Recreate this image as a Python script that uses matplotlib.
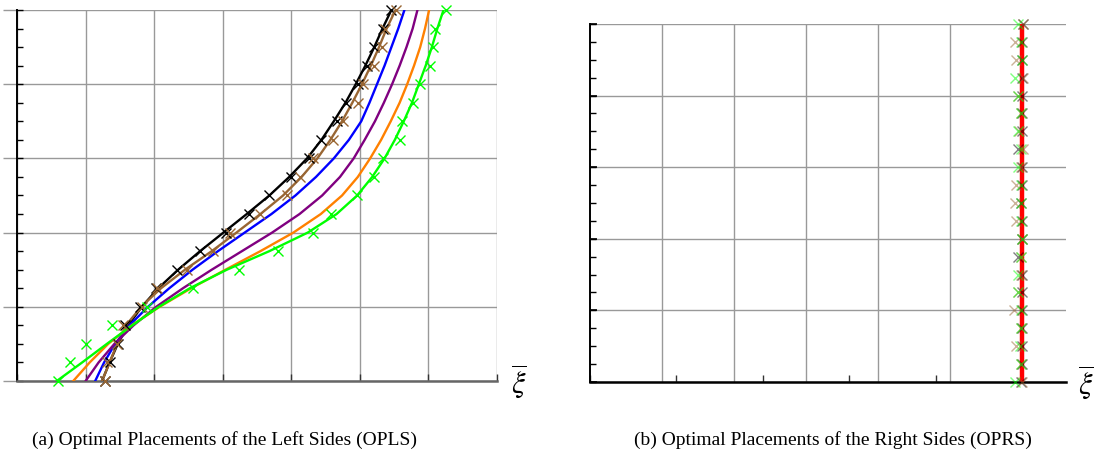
import matplotlib
matplotlib.use('Agg')
import matplotlib.pyplot as plt
from matplotlib.ticker import MultipleLocator

plt.rcParams['font.family'] = ['Liberation Serif', 'DejaVu Serif']
plt.rcParams['mathtext.fontset'] = 'stix'

# heights at which every placement is sampled
heights = [0.0, 0.25, 0.5, 0.75, 1.0, 1.25, 1.5, 1.75, 2.0, 2.25, 2.5,
           2.75, 3.0, 3.25, 3.5, 3.75, 4.0, 4.25, 4.5, 4.75, 5.0]

# left sides: analytic curves
opls_black = [1.24, 1.35, 1.47, 1.62, 1.82, 2.06, 2.35, 2.67, 3.01, 3.35, 3.68,
              3.97, 4.23, 4.44, 4.62, 4.79, 4.94, 5.08, 5.21, 5.33, 5.46]
opls_brown = [1.24, 1.35, 1.46, 1.59, 1.81, 2.10, 2.45, 2.84, 3.20, 3.55, 3.88,
              4.15, 4.38, 4.57, 4.74, 4.89, 5.03, 5.16, 5.28, 5.39, 5.52]
opls_blue = [1.14, 1.27, 1.43, 1.64, 1.91, 2.22, 2.56, 2.93, 3.32, 3.71, 4.06,
             4.36, 4.62, 4.84, 5.02, 5.14, 5.25, 5.36, 5.46, 5.56, 5.65]
opls_purple = [1.00, 1.19, 1.42, 1.70, 2.03, 2.42, 2.84, 3.28, 3.72, 4.12, 4.45,
               4.71, 4.91, 5.07, 5.22, 5.35, 5.47, 5.58, 5.68, 5.77, 5.84]
opls_orange = [0.82, 1.06, 1.33, 1.67, 2.08, 2.54, 3.04, 3.55, 4.03, 4.43, 4.74,
               4.97, 5.15, 5.31, 5.45, 5.58, 5.69, 5.79, 5.88, 5.95, 6.01]
opls_green = [0.58, 0.95, 1.31, 1.68, 2.07, 2.52, 3.06, 3.68, 4.24, 4.66, 4.96,
              5.18, 5.36, 5.51, 5.64, 5.76, 5.86, 5.96, 6.05, 6.13, 6.22]

# left sides: numerical solutions
opls_black_pts = [1.28, 1.35, 1.47, 1.58, 1.80, 2.03, 2.34, 2.67, 3.05, 3.39, 3.68,
                  3.99, 4.26, 4.44, 4.67, 4.80, 4.97, 5.10, 5.20, 5.34, 5.46]
opls_brown_pts = [1.28, 1.31, 1.46, 1.55, 1.82, 2.04, 2.48, 2.86, 3.11, 3.55, 3.94,
                  4.13, 4.32, 4.61, 4.75, 4.98, 5.04, 5.20, 5.33, 5.37, 5.52]
opls_green_pts = [0.60, 0.77, 1.01, 1.39, 1.90, 2.57, 3.24, 3.80, 4.31, 4.58, 4.96,
                  5.20, 5.34, 5.58, 5.62, 5.78, 5.88, 6.03, 6.07, 6.10, 6.25]

# right sides
oprs_red = [6.0] * 21
oprs_black_pts = [5.98, 6.00, 6.00, 6.00, 6.00, 6.00, 6.00, 5.95, 6.00, 6.00, 5.98,
                  6.00, 6.00, 5.95, 6.00, 6.00, 6.00, 6.00, 6.00, 6.00, 6.01]
oprs_brown_pts = [6.00, 5.98, 5.92, 5.98, 5.89, 5.95, 5.99, 5.99, 6.00, 5.92, 5.90,
                  5.92, 5.99, 6.01, 5.96, 5.98, 5.95, 6.01, 5.92, 5.90, 6.01]
oprs_green_pts = [5.90, 5.98, 5.97, 5.98, 5.98, 5.95, 5.95, 5.99, 6.00, 5.98, 5.98,
                  5.98, 5.94, 5.99, 5.94, 5.98, 5.95, 5.90, 6.00, 5.98, 5.94]

BLACK = '#000000'
BROWN = '#996633'
BLUE = '#0000ff'
PURPLE = '#800080'
ORANGE = '#ff8000'
GREEN = '#00ff00'
RED = '#ff0000'
GRID = '#999999'


def style_frame(ax, xmax, xstep, bottom_color, outward_grid):
    ax.set_xlim(0, xmax)
    ax.set_ylim(0, 5)
    ax.xaxis.set_major_locator(MultipleLocator(xstep))
    ax.yaxis.set_major_locator(MultipleLocator(1))
    ax.yaxis.set_minor_locator(MultipleLocator(0.25))
    ax.yaxis.remove_overlapping_locs = False
    ax.grid(True, which='major', color=GRID, lw=1.0)
    if xstep != 1:
        ax.xaxis.set_minor_locator(MultipleLocator(1))
        ax.grid(False, axis='x', which='major')
        ax.grid(True, axis='x', which='minor', color=GRID, lw=1.0)
    ax.set_xticklabels([])
    ax.set_yticklabels([])
    for side in ('top', 'right'):
        ax.spines[side].set_visible(False)
    ax.spines['left'].set_color(BLACK)
    ax.spines['left'].set_linewidth(1.4)
    ax.spines['bottom'].set_color(bottom_color)
    ax.spines['bottom'].set_linewidth(1.8)
    ax.tick_params(axis='x', which='major', direction='in', length=5,
                   width=1, color='#333333')
    ax.tick_params(axis='x', which='minor', length=0)
    ax.tick_params(axis='y', which='minor', direction='in', length=4,
                   width=1, color=BLACK)
    if outward_grid:
        ax.tick_params(axis='y', which='major', direction='out', length=10,
                       width=1, color=GRID)
    else:
        ax.tick_params(axis='y', which='major', direction='in', length=5,
                       width=1.2, color=BLACK)
    ax.set_axisbelow(True)


fig = plt.figure(figsize=(10.95, 4.56), dpi=100)
ax1 = fig.add_axes([0.01553, 0.16228, 0.43836, 0.81360])
ax2 = fig.add_axes([0.53881, 0.16009, 0.43470, 0.78509])

style_frame(ax1, 7, 1, '#666666', True)
style_frame(ax2, 6.611, 1.2, BLACK, False)

# (a) left sides
for xs, c in [(opls_black, BLACK), (opls_brown, BROWN), (opls_blue, BLUE),
              (opls_purple, PURPLE), (opls_orange, ORANGE), (opls_green, GREEN)]:
    ax1.plot(xs, heights, color=c, lw=1.7, solid_joinstyle='round', zorder=3)
for xs, c in [(opls_black_pts, BLACK), (opls_brown_pts, BROWN),
              (opls_green_pts, GREEN)]:
    ax1.plot(xs, heights, ls='none', marker='x', ms=7, mew=1.0, color=c,
             zorder=4, clip_on=False)

# (b) right sides
ax2.plot(oprs_red, heights, color=RED, lw=3.2, solid_capstyle='butt', zorder=3)
for xs, c in [(oprs_black_pts, BLACK), (oprs_brown_pts, BROWN),
              (oprs_green_pts, GREEN)]:
    ax2.plot(xs, heights, ls='none', marker='x', ms=7, mew=1.0, color=c,
             alpha=0.5, zorder=4, clip_on=False)

for ax, xpos in [(ax1, 1.046), (ax2, 1.042)]:
    ax.text(xpos, 0.0, r'$\overline{\xi}$', transform=ax.transAxes, fontsize=22,
            ha='center', va='center')

fig.text(225 / 1095, 1 - 440 / 456, '(a) Optimal Placements of the Left Sides (OPLS)',
         ha='center', va='center', fontsize=14)
fig.text(833 / 1095, 1 - 440 / 456, '(b) Optimal Placements of the Right Sides (OPRS)',
         ha='center', va='center', fontsize=14)

fig.savefig('out.png', dpi=100)
